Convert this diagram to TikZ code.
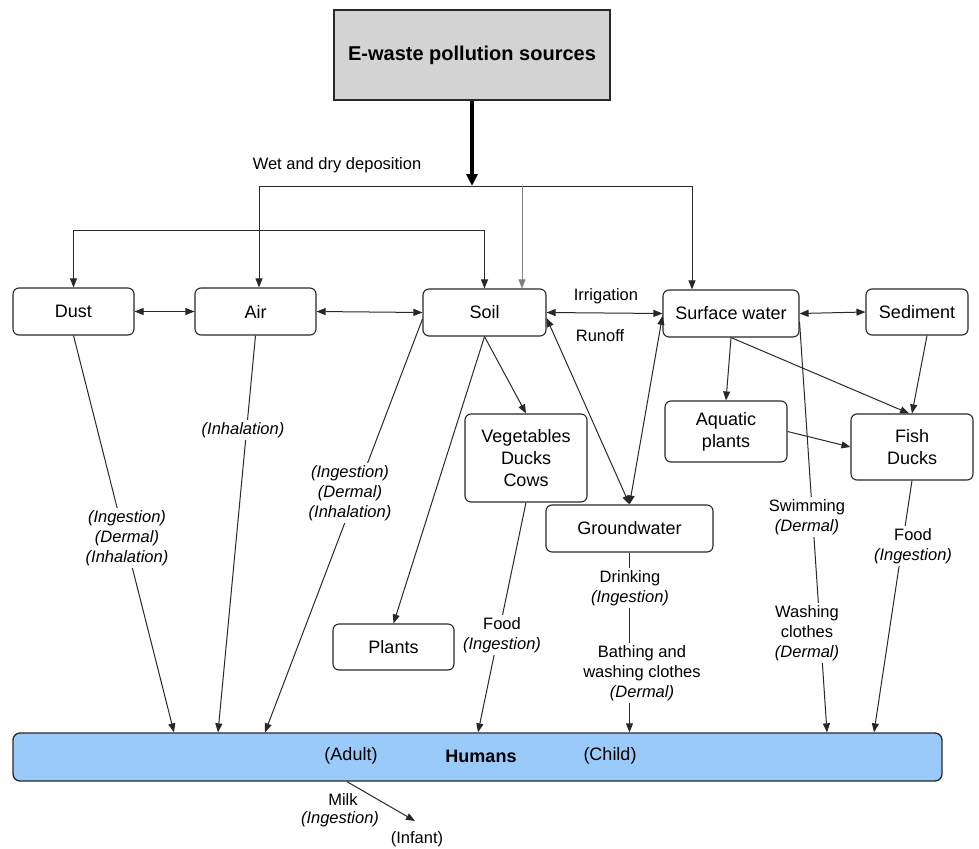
\documentclass[tikz,border=0pt]{standalone}
\usepackage{fontspec}
\setmainfont{Liberation Sans}
\usetikzlibrary{arrows.meta,calc}
\definecolor{srcgray}{RGB}{211,211,211}
\definecolor{humanblue}{RGB}{153,202,250}
\definecolor{ink}{RGB}{40,40,40}
\begin{document}
\begin{tikzpicture}[x=1pt,y=-1pt,
  box/.style={draw=ink, line width=1.1pt, rounded corners=6pt, fill=white, inner sep=0pt,
    align=center, font=\fontsize{18}{22}\selectfont},
  lbl/.style={fill=white, inner sep=2pt, align=center, font=\fontsize{16.5}{20}\selectfont},
  ilbl/.style={lbl, font=\fontsize{16.5}{20}\selectfont\itshape},
  conn/.style={draw=ink, line width=1pt},
  arr/.style={conn, -{Triangle[length=9pt,width=7pt]}},
  darr/.style={conn, {Triangle[length=9pt,width=7pt]}-{Triangle[length=9pt,width=7pt]}},
]
\useasboundingbox (0,0) rectangle (979,848);

% source box
\node[draw=ink, line width=2pt, fill=srcgray, minimum width=276pt, minimum height=90pt,
  font=\fontsize{20}{24}\selectfont\bfseries] (src) at (472,55) {E-waste pollution sources};

% compartments
\node[box, minimum width=121pt, minimum height=47pt] (dust)  at (73.5,311.5) {Dust};
\node[box, minimum width=121pt, minimum height=47pt] (air)   at (255.5,311.5) {Air};
\node[box, minimum width=123pt, minimum height=47pt] (soil)  at (484.5,312.5) {Soil};
\node[box, minimum width=136pt, minimum height=47pt] (surf)  at (731,313.5) {Surface water};
\node[box, minimum width=102pt, minimum height=46pt] (sed)   at (917,312) {Sediment};
\node[box, minimum width=122pt, minimum height=88pt] (veg)   at (526,458) {Vegetables\\Ducks\\Cows};
\node[box, minimum width=122pt, minimum height=61pt] (aqua)  at (726,431.5) {Aquatic\\plants};
\node[box, minimum width=122pt, minimum height=66pt] (fish)  at (912,447) {Fish\\Ducks};
\node[box, minimum width=167pt, minimum height=47pt] (ground) at (629.5,528.5) {Groundwater};
\node[box, minimum width=121pt, minimum height=46pt] (plants) at (393.5,647) {Plants};

% humans bar
\node[draw=ink, line width=1.3pt, rounded corners=7pt, fill=humanblue,
  minimum width=929pt, minimum height=48pt] (humans) at (477.5,757) {};
\node[font=\fontsize{18}{22}\selectfont] (adult) at (351,756) {(Adult)};
\node[font=\fontsize{18}{22}\selectfont\bfseries] (hum) at (481,756) {Humans};
\node[font=\fontsize{18}{22}\selectfont] (child) at (610,756) {(Child)};

% deposition
\coordinate (dep) at (472,186);
\coordinate (dep2) at (522,186);
\draw[draw=black, line width=3.5pt, -{Triangle[length=12pt,width=11pt]}] (src.south) -- (dep);
\draw[arr] (dep) -| (259,0 |- air.north);
\draw[arr] (dep) -| (692,0 |- surf.north);
\draw[arr, draw=gray, line width=0.8pt] (dep2) -- (522,0 |- soil.north);
\draw[darr] (dust.north) -- (dust.north |- 0,230) -| (soil.north);
\node[lbl, fill=none] (wetdry) at (337,165) {Wet and dry deposition};

% exchanges between compartments
\draw[darr] (dust.east) -- (air.west);
\draw[darr] (air.east) -- (soil.west);
\draw[darr] (soil.east) -- (surf.west);
\draw[darr] (surf.east) -- (sed.west);
\node[lbl, fill=none] (irr) at (606,296) {Irrigation};
\node[lbl, fill=none] (run) at (600,336) {Runoff};
\draw[darr] (soil.355) -- (ground.north);
\draw[darr] (surf.182) -- (ground.north);
\draw[arr] (soil.south) -- (plants.north);
\draw[arr] (soil.south) -- (veg.north);
\draw[arr] (surf.south) -- (aqua.north);
\draw[arr] (surf.south) -- (fish.95);
\draw[arr] (sed.293) -- (fish.north);
\draw[arr] (aqua.east) -- (fish.west);

% exposure routes to humans
\draw[arr] (dust.south) -- (174,0 |- humans.north);
\draw[arr] (air.south) -- (218,0 |- humans.north);
\draw[arr] (soil.186) -- (265,0 |- humans.north);
\draw[arr] (veg.south) -- (478,0 |- humans.north);
\draw[arr] (ground.south) -- (ground.south |- humans.north);
\draw[arr] (surf.353) -- (827,0 |- humans.north);
\draw[arr] (fish.south) -- (874,0 |- humans.north);

\node[ilbl] (l1) at (127,538) {(Ingestion)\\(Dermal)\\(Inhalation)};
\node[ilbl] (l2) at (243,430) {(Inhalation)};
\node[ilbl] (l3) at (350,493) {(Ingestion)\\(Dermal)\\(Inhalation)};
\node[lbl] (l4) at (502,635) {Food\\\textit{(Ingestion)}};
\node[lbl] (l5) at (630,588) {Drinking\\\textit{(Ingestion)}};
\node[lbl] (l6) at (642,673) {Bathing and\\washing clothes\\\textit{(Dermal)}};
\node[lbl] (l7) at (807,517) {Swimming\\\textit{(Dermal)}};
\node[lbl] (l8) at (807,633) {Washing\\clothes\\\textit{(Dermal)}};
\node[lbl] (l9) at (913,546) {Food\\\textit{(Ingestion)}};

% breast milk to infant
\coordinate (milkend) at (415,821);
\draw[arr] (347,0 |- humans.south) -- (milkend);
\node[lbl, fill=none] (milk) at (343,800) {Milk};
\node[ilbl, fill=none] (milking) at (340,819) {(Ingestion)};
\node[lbl, fill=none] (infant) at (417,839) {(Infant)};
\end{tikzpicture}
\end{document}
